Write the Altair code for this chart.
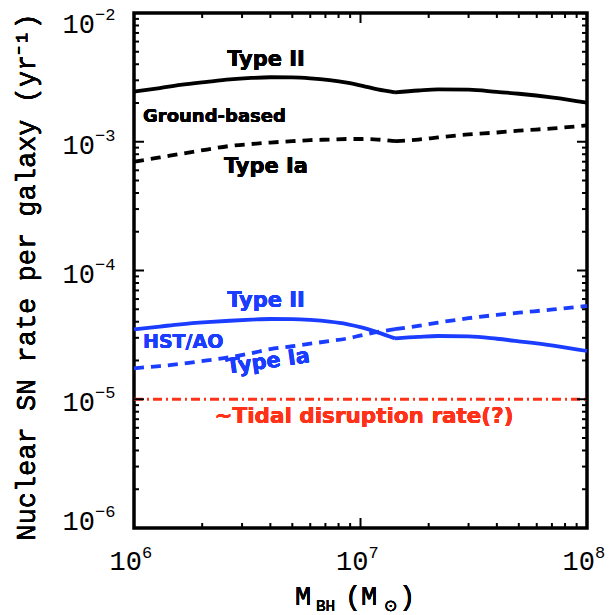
import altair as alt
import pandas as pd

# ---------------- data ----------------
mass = [1.0e6, 1.3e6, 1.6e6, 2.1e6, 2.65e6, 3.3e6, 4.0e6, 5.0e6, 6.0e6, 7.3e6, 8.7e6, 1.02e7, 1.19e7, 1.42e7,
        1.8e7, 2.2e7, 3.0e7, 4.0e7, 5.0e7, 7.1e7, 1.0e8]
ground_II = [2.45e-3, 2.61e-3, 2.76e-3, 2.92e-3, 3.05e-3, 3.13e-3, 3.17e-3, 3.16e-3, 3.11e-3, 3.01e-3, 2.88e-3, 2.72e-3, 2.55e-3, 2.42e-3,
             2.50e-3, 2.55e-3, 2.54e-3, 2.44e-3, 2.36e-3, 2.20e-3, 2.01e-3]
ground_Ia = [7.0e-4, 7.55e-4, 8.04e-4, 8.7e-4, 9.27e-4, 9.6e-4, 9.86e-4, 1.01e-3, 1.03e-3, 1.04e-3, 1.05e-3, 1.05e-3, 1.04e-3, 1.01e-3,
             1.04e-3, 1.08e-3, 1.14e-3, 1.18e-3, 1.22e-3, 1.27e-3, 1.34e-3]
hst_II = [3.49e-5, 3.67e-5, 3.82e-5, 3.97e-5, 4.07e-5, 4.15e-5, 4.20e-5, 4.19e-5, 4.13e-5, 4.01e-5, 3.84e-5, 3.60e-5, 3.31e-5, 2.97e-5,
          3.05e-5, 3.10e-5, 3.08e-5, 2.95e-5, 2.82e-5, 2.61e-5, 2.37e-5]
hst_Ia = [1.74e-5, 1.81e-5, 1.88e-5, 2.0e-5, 2.12e-5, 2.28e-5, 2.45e-5, 2.58e-5, 2.70e-5, 2.83e-5, 2.96e-5, 3.15e-5, 3.33e-5, 3.50e-5,
          3.72e-5, 3.94e-5, 4.26e-5, 4.52e-5, 4.70e-5, 4.98e-5, 5.30e-5]
tidal_mass = [1.0e6, 1.0e8]
tidal_rate = [1.0e-5, 1.0e-5]
KINK = 13  # index of the break at M ~ 1.4e7

x_major = [1e6, 1e7, 1e8]
x_exp = ["6", "7", "8"]
x_minor = [m * 10 ** k for k in (6, 7) for m in range(2, 10)]
y_major = [1e-6, 1e-5, 1e-4, 1e-3, 1e-2]
y_exp = ["\u22126", "\u22125", "\u22124", "\u22123", "\u22122"]
y_minor = [m * 10.0 ** k for k in (-6, -5, -4, -3) for m in range(2, 10)]

# ---------------- layout ----------------
L, T = 134, 13           # plot area origin in the page
W, H = 453, 515          # plot area size
BLACK = "#000000"
BLUE = "#1a3dff"
RED = "#ff3219"
LABEL_FONT = "Liberation Mono"
ANN_FONT = "DejaVu Sans"

xscale = alt.Scale(type="log", domain=[1e6, 1e8], nice=False)
yscale = alt.Scale(type="log", domain=[1e-6, 1e-2], nice=False)


def X(f="m"):
    return alt.X(f"{f}:Q", scale=xscale, axis=None)


def Y(f="r"):
    return alt.Y(f"{f}:Q", scale=yscale, axis=None)


def px(v):
    return alt.value(v - L)


def py(v):
    return alt.value(v - T)


def curve(rates, color, dash=None, width=3.8):
    # two smooth branches that meet at the break
    a = pd.DataFrame({"m": mass[:KINK + 1], "r": rates[:KINK + 1], "seg": "a"})
    b = pd.DataFrame({"m": mass[KINK:], "r": rates[KINK:], "seg": "b"})
    df = pd.concat([a, b], ignore_index=True)
    kw = dict(color=color, strokeWidth=width, interpolate="monotone")
    if dash is not None:
        kw["strokeDash"] = dash
    return alt.Chart(df).mark_line(**kw).encode(x=X(), y=Y(), detail="seg:N")


layers = []
layers.append(curve(ground_II, BLACK))
layers.append(curve(ground_Ia, BLACK, [10, 7]))
layers.append(curve(hst_II, BLUE))
layers.append(curve(hst_Ia, BLUE, [10, 7]))
layers.append(alt.Chart(pd.DataFrame({"m": tidal_mass, "r": tidal_rate})).mark_line(
    color=RED, strokeWidth=3, strokeDash=[9, 4, 2, 4]).encode(x=X(), y=Y()))

# ---------------- ticks (inward, on all four sides) ----------------
ymaj = pd.DataFrame({"v": y_major})
ymin = pd.DataFrame({"v": y_minor})
xmaj = pd.DataFrame({"v": x_major})
xmin = pd.DataFrame({"v": x_minor})

for df, ln in ((ymaj, 10), (ymin, 5)):
    layers.append(alt.Chart(df).mark_rule(color=BLACK, strokeWidth=2).encode(
        y=Y("v"), x=alt.value(0), x2=alt.value(ln)))
    layers.append(alt.Chart(df).mark_rule(color=BLACK, strokeWidth=2).encode(
        y=Y("v"), x=alt.value(W), x2=alt.value(W - ln)))
for df, ln in ((xmaj, 10), (xmin, 5)):
    layers.append(alt.Chart(df).mark_rule(color=BLACK, strokeWidth=2).encode(
        x=X("v"), y=alt.value(H), y2=alt.value(H - ln)))
    layers.append(alt.Chart(df).mark_rule(color=BLACK, strokeWidth=2).encode(
        x=X("v"), y=alt.value(0), y2=alt.value(ln)))

# ---------------- tick labels ----------------
ylab = pd.DataFrame({"v": y_major, "e": y_exp})
ybase = alt.Chart(ylab)
for flt, shift in (("datum.v > 2e-6 && datum.v < 5e-3", 0),
                   ("datum.v >= 5e-3", 8),
                   ("datum.v <= 2e-6", -10)):
    layers.append(ybase.transform_filter(flt).mark_text(
        font=LABEL_FONT, fontSize=27, align="right", baseline="alphabetic",
        dx=-39, dy=12 + shift, color=BLACK).encode(
        y=Y("v"), x=alt.value(0), text=alt.value("10")))
    layers.append(ybase.transform_filter(flt).mark_text(
        font=LABEL_FONT, fontSize=17, align="left", baseline="alphabetic",
        dx=-39, dy=-1 + shift, color=BLACK).encode(
        y=Y("v"), x=alt.value(0), text="e:N"))

xlab = pd.DataFrame({"v": x_major, "e": x_exp})
layers.append(alt.Chart(xlab).mark_text(
    font=LABEL_FONT, fontSize=27, align="right", baseline="alphabetic",
    dx=8, color=BLACK).encode(x=X("v"), y=alt.value(H + 42), text=alt.value("10")))
layers.append(alt.Chart(xlab).mark_text(
    font=LABEL_FONT, fontSize=17, align="left", baseline="alphabetic",
    dx=8, color=BLACK).encode(x=X("v"), y=alt.value(H + 30), text="e:N"))

# ---------------- axis titles ----------------
layers.append(alt.Chart(ylab).mark_text(
    font=LABEL_FONT, fontSize=27, angle=270, align="center", baseline="middle",
    color=BLACK).encode(x=px(27), y=py(277),
                        text=alt.value("Nuclear SN rate per galaxy (yr\u207b\u00b9)")))


def title_piece(txt, x, y, size):
    return alt.Chart(ylab).mark_text(
        font=LABEL_FONT, fontSize=size, align="left", baseline="alphabetic",
        color=BLACK).encode(x=px(x), y=py(y), text=alt.value(txt))


layers.append(title_piece("M", 295, 605, 27))
layers.append(title_piece("BH", 316, 611, 16))
layers.append(title_piece("(", 345, 605, 27))
layers.append(title_piece("M", 361, 605, 27))
layers.append(title_piece("\u2299", 384, 611, 16))
layers.append(title_piece(")", 399, 605, 27))

# ---------------- annotations ----------------


def note(txt, x, y, color, size, align="center", angle=None, baseline="alphabetic"):
    kw = dict(font=ANN_FONT, fontWeight="bold", fontSize=size, align=align,
              baseline=baseline, color=color)
    if angle is not None:
        kw["angle"] = angle
    return alt.Chart(ylab).mark_text(**kw).encode(x=px(x), y=py(y), text=alt.value(txt))


layers.append(note("Type II", 266, 66, BLACK, 21))
layers.append(note("Ground-based", 143, 122, BLACK, 18, align="left"))
layers.append(note("Type Ia", 266, 173, BLACK, 21))
layers.append(note("Type II", 266, 307, BLUE, 21))
layers.append(note("HST/AO", 143, 348, BLUE, 19, align="left"))
layers.append(note("Type Ia", 268, 362, BLUE, 21, angle=352, baseline="middle"))
layers.append(note("~Tidal disruption rate(?)", 364, 423, RED, 21.5))

chart = alt.layer(*layers).properties(
    width=W, height=H,
    autosize=alt.AutoSizeParams(type="none"),
    padding={"left": L, "top": T, "right": 610 - L - W, "bottom": 615 - T - H},
    background="white",
).configure_view(stroke=BLACK, strokeWidth=3.5)

chart.save("out.html", embed_options={"renderer": "svg", "actions": False})
